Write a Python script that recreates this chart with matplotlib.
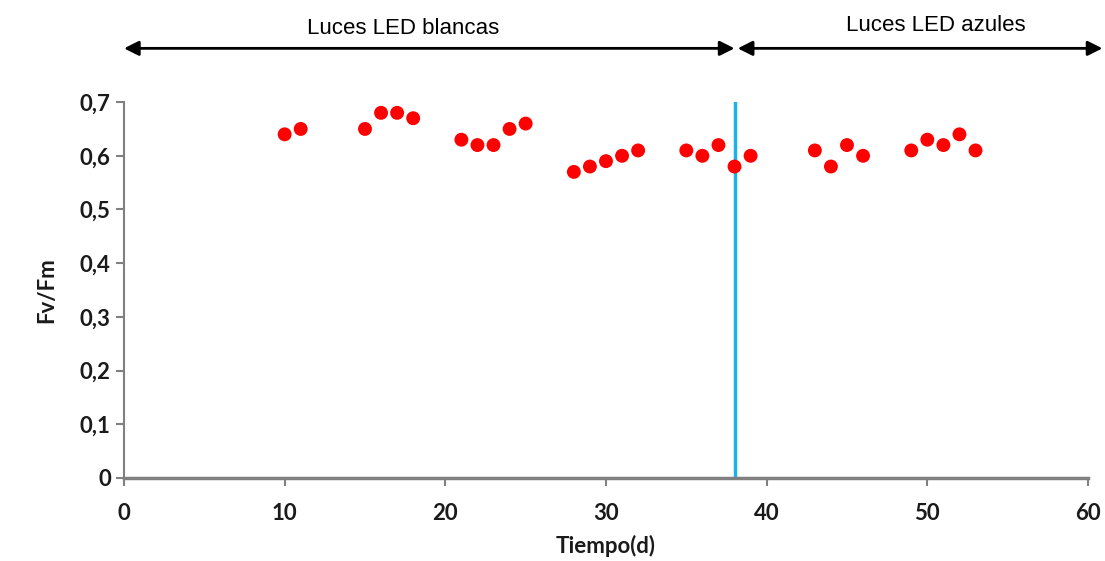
import matplotlib.pyplot as plt
import numpy as np

# Data
dias = [10, 11, 15, 16, 17, 18, 21, 22, 23, 24, 25, 28, 29, 30, 31, 32,
        35, 36, 37, 38, 39, 43, 44, 45, 46, 49, 50, 51, 52, 53]
fvfm = [0.64, 0.65, 0.65, 0.68, 0.68, 0.67, 0.63, 0.62, 0.62, 0.65, 0.66,
        0.57, 0.58, 0.59, 0.60, 0.61, 0.61, 0.60, 0.62, 0.58, 0.60,
        0.61, 0.58, 0.62, 0.60, 0.61, 0.63, 0.62, 0.64, 0.61]
cambio = 38
yticks = [0, 0.1, 0.2, 0.3, 0.4, 0.5, 0.6, 0.7]
xticks = [0, 10, 20, 30, 40, 50, 60]

tick_font = ['Lato', 'DejaVu Sans']

fig = plt.figure(figsize=(11.05, 5.61), dpi=100)
ax = fig.add_axes([0.1122, 0.148, 0.8724, 0.670])

ax.scatter(dias, fvfm, s=100, color='#ff0000', zorder=3, edgecolors='none')
ax.axvline(cambio, color='#1ab2e8', lw=2.5, zorder=2)

ax.set_xlim(0, 60)
ax.set_ylim(0, 0.7)
ax.set_xticks(xticks)
ax.set_yticks(yticks)
ax.set_yticklabels([('%g' % v).replace('.', ',') for v in yticks])

for s in ['top', 'right']:
    ax.spines[s].set_visible(False)
for s in ['left', 'bottom']:
    ax.spines[s].set_color('#808080')
    ax.spines[s].set_linewidth(1.5)
ax.spines['bottom'].set_linewidth(2.5)
ax.tick_params(axis='both', color='#808080', width=1.5, length=6)
ax.tick_params(axis='x', pad=12)

for lab in ax.get_xticklabels() + ax.get_yticklabels():
    lab.set_family(tick_font)
    lab.set_fontweight('bold')
    lab.set_fontsize(16)
    lab.set_color('#1a1a1a')

ax.set_xlabel('Tiempo(d)', family=tick_font, fontweight='bold', fontsize=16,
              color='#1a1a1a', labelpad=8)
ax.set_ylabel('Fv/Fm', family=tick_font, fontweight='bold', fontsize=16,
              color='#1a1a1a', labelpad=16)

# Arrows above the plot
trans = ax.get_xaxis_transform()
ay = 1.143
arrow = dict(arrowstyle='<|-|>', color='black', lw=2,
             mutation_scale=22, shrinkA=0, shrinkB=0)
ax.annotate('', xy=(0, ay), xytext=(cambio, ay), xycoords=trans,
            textcoords=trans, arrowprops=arrow, annotation_clip=False)
ax.annotate('', xy=(cambio + 0.2, ay), xytext=(60.9, ay), xycoords=trans,
            textcoords=trans, arrowprops=arrow, annotation_clip=False)

ax.text(17.4, 1.195, 'Luces LED blancas', transform=trans, ha='center',
        va='center', fontsize=16, family=['Liberation Sans', 'DejaVu Sans'])
ax.text(50.5, 1.205, 'Luces LED azules', transform=trans, ha='center',
        va='center', fontsize=16, family=['Liberation Sans', 'DejaVu Sans'])

fig.savefig('out.png', dpi=100)
